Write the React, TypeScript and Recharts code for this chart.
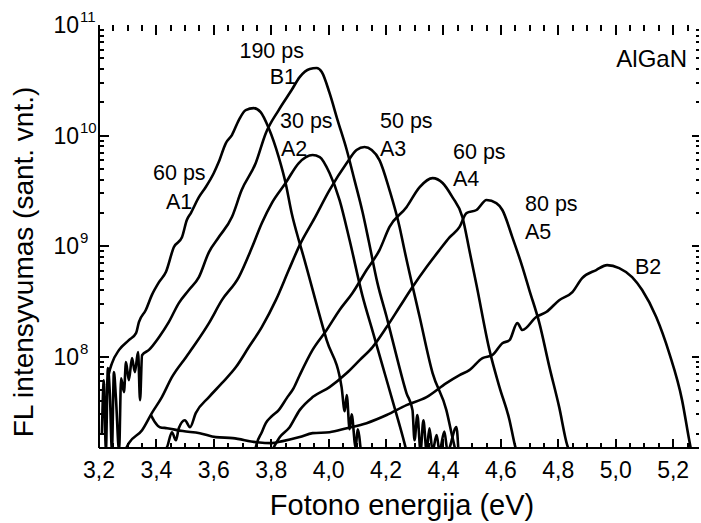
import { LineChart, Line, XAxis, YAxis } from "recharts";

const FONT = '"Liberation Sans", Arial, Helvetica, sans-serif';

// photon energy (eV) / PL intensity (arb. units) for each spectrum
const a1Energy = [3.228, 3.235, 3.245, 3.27, 3.304, 3.329, 3.339, 3.363, 3.384, 3.409, 3.433, 3.461, 3.489, 3.506, 3.52, 3.548, 3.572, 3.6, 3.617, 3.642, 3.663, 3.687, 3.711, 3.739, 3.763, 3.791, 3.826, 3.85, 3.871, 3.896, 3.906, 3.993, 4.045, 4.056, 4.063, 4.073, 4.08, 4.094, 4.101, 4.112];
const a1Intensity = [5.5e7, 7.1e7, 8.7e7, 1.15e8, 1.41e8, 1.63e8, 2.05e8, 2.64e8, 3.6e8, 4.72e8, 5.82e8, 9.8e8, 1.2e9, 1.72e9, 1.99e9, 2.77e9, 3.42e9, 4.58e9, 5.75e9, 8.55e9, 1.01e10, 1.38e10, 1.7e10, 1.77e10, 1.63e10, 1.17e10, 6.38e9, 3.72e9, 1.99e9, 1.13e9, 9.2e8, 1.41e8, 5.3e7, 3.2e7, 4.5e7, 2.2e7, 3.0e7, 1.5e7, 2.2e7, 1.4e7];

const b1Energy = [3.21, 3.217, 3.224, 3.231, 3.238, 3.245, 3.252, 3.259, 3.27, 3.277, 3.287, 3.294, 3.304, 3.315, 3.325, 3.336, 3.343, 3.35, 3.374, 3.409, 3.443, 3.478, 3.513, 3.548, 3.583, 3.617, 3.663, 3.697, 3.746, 3.781, 3.826, 3.871, 3.899, 3.934, 3.958, 3.976, 4.003, 4.031, 4.063, 4.09, 4.118, 4.139, 4.17, 4.202, 4.24, 4.271, 4.292, 4.299, 4.309, 4.32, 4.33, 4.341, 4.351, 4.362, 4.376, 4.386, 4.403, 4.414, 4.445, 4.452];
const b1Intensity = [1.95e7, 6.12e7, 1.4e7, 7.87e7, 4.49e7, 1.4e7, 7.24e7, 4.21e7, 1.4e7, 6.38e7, 4.77e7, 8.91e7, 6.12e7, 9.68e7, 7.24e7, 1.1e8, 4.04e7, 1.03e8, 1.15e8, 1.5e8, 2.05e8, 3.05e8, 4.0e8, 5.24e8, 8.83e8, 1.2e9, 1.83e9, 3.21e9, 5.64e9, 1.05e10, 1.7e10, 2.58e10, 3.38e10, 4.0e10, 4.08e10, 3.76e10, 2.43e10, 1.38e10, 7.4e9, 3.95e9, 2.03e9, 1.13e9, 4.62e8, 2.28e8, 9.29e7, 4.68e7, 3.28e7, 1.75e7, 2.96e7, 1.4e7, 2.66e7, 1.4e7, 2.25e7, 1.4e7, 1.95e7, 1.4e7, 2.1e7, 1.4e7, 2.3e7, 1.4e7];

const a2Energy = [3.29, 3.304, 3.35, 3.384, 3.419, 3.454, 3.503, 3.537, 3.583, 3.628, 3.687, 3.732, 3.767, 3.802, 3.85, 3.896, 3.944, 3.969, 4.003, 4.038, 4.073, 4.118, 4.153, 4.188, 4.223, 4.264, 4.271];
const a2Intensity = [1.4e7, 1.65e7, 2.16e7, 3.08e7, 4.3e7, 6.52e7, 9.89e7, 1.32e8, 2.01e8, 3.24e8, 5.24e8, 9.6e8, 1.61e9, 2.45e9, 3.72e9, 5.64e9, 6.67e9, 6.38e9, 4.58e9, 2.61e9, 1.13e9, 3.52e8, 1.7e8, 8.2e7, 3.95e7, 1.65e7, 1.4e7];

const a3Energy = [3.423, 3.437, 3.454, 3.468, 3.478, 3.499, 3.517, 3.537, 3.583, 3.628, 3.677, 3.722, 3.767, 3.816, 3.861, 3.899, 3.951, 4.003, 4.063, 4.097, 4.125, 4.15, 4.177, 4.212, 4.247, 4.264, 4.317, 4.362, 4.41, 4.431, 4.442];
const a3Intensity = [1.4e7, 1.52e7, 2.07e7, 1.75e7, 2.25e7, 2.66e7, 2.3e7, 3.08e7, 4.3e7, 5.75e7, 8.04e7, 1.22e8, 1.85e8, 3.24e8, 6.07e8, 1.02e9, 1.79e9, 3.21e9, 5.64e9, 7.4e9, 7.87e9, 7.4e9, 6.0e9, 3.21e9, 1.49e9, 9.2e8, 2.28e8, 7.1e7, 3.28e7, 1.87e7, 1.4e7];

const a4Energy = [3.743, 3.75, 3.767, 3.781, 3.802, 3.826, 3.854, 3.878, 3.899, 3.944, 3.993, 4.038, 4.083, 4.132, 4.177, 4.212, 4.271, 4.317, 4.362, 4.397, 4.431, 4.466, 4.49, 4.515, 4.56, 4.595, 4.63, 4.647, 4.654];
const a4Intensity = [1.4e7, 1.65e7, 2.07e7, 2.5e7, 2.89e7, 3.28e7, 4.21e7, 5.19e7, 6.79e7, 1.15e8, 1.74e8, 2.64e8, 3.76e8, 6.07e8, 9.2e8, 1.49e9, 2.25e9, 3.42e9, 4.12e9, 3.72e9, 2.77e9, 1.83e9, 9.2e8, 4.44e8, 1.15e8, 5.3e7, 2.66e7, 1.65e7, 1.4e7];

const a5Energy = [3.802, 3.83, 3.864, 3.899, 3.944, 4.003, 4.063, 4.108, 4.153, 4.202, 4.247, 4.292, 4.341, 4.386, 4.421, 4.456, 4.48, 4.515, 4.55, 4.584, 4.605, 4.64, 4.675, 4.699, 4.734, 4.769, 4.803, 4.831, 4.838];
const a5Intensity = [1.4e7, 1.87e7, 2.3e7, 3.28e7, 4.3e7, 5.3e7, 7.1e7, 9.3e7, 1.22e8, 1.85e8, 2.81e8, 4.26e8, 6.46e8, 9.2e8, 1.2e9, 1.49e9, 1.99e9, 2.12e9, 2.61e9, 2.45e9, 2.12e9, 1.2e9, 6.46e8, 4.0e8, 2.01e8, 8.04e7, 3.49e7, 1.58e7, 1.4e7];

const b2Energy = [3.381, 3.395, 3.412, 3.437, 3.492, 3.551, 3.607, 3.666, 3.75, 3.802, 3.84, 3.899, 3.944, 4.003, 4.063, 4.132, 4.202, 4.271, 4.341, 4.41, 4.456, 4.49, 4.536, 4.57, 4.605, 4.63, 4.657, 4.675, 4.723, 4.758, 4.803, 4.849, 4.883, 4.932, 4.97, 5.012, 5.057, 5.092, 5.141, 5.186, 5.231, 5.256, 5.263];
const b2Intensity = [2.96e7, 2.55e7, 2.3e7, 2.25e7, 2.12e7, 2.03e7, 1.87e7, 1.83e7, 1.68e7, 1.65e7, 1.72e7, 1.87e7, 2.03e7, 2.07e7, 2.25e7, 2.5e7, 2.96e7, 3.64e7, 4.3e7, 5.75e7, 6.79e7, 7.55e7, 9.68e7, 1.03e8, 1.32e8, 1.41e8, 2.01e8, 1.74e8, 2.28e8, 2.53e8, 3.24e8, 3.84e8, 5.13e8, 6.07e8, 6.73e8, 6.32e8, 5.24e8, 4.0e8, 2.28e8, 1.08e8, 4.04e7, 1.75e7, 1.4e7];

const xMajorTicks = [3.2, 3.4, 3.6, 3.8, 4.0, 4.2, 4.4, 4.6, 4.8, 5.0, 5.2];
const yMajorTicks = [1e8, 1e9, 1e10, 1e11];

const X_DOMAIN: [number, number] = [3.2, 5.29];
const Y_DOMAIN: [number, number] = [1.49e7, 1e11];

// minor ticks every 0.05 eV, log minors 2..9 per decade
const xMinorTicks = Array.from({ length: 42 }, (_, i) => +(3.2 + i * 0.05).toFixed(2));
const yMinorTicks: number[] = [];
[1e7, 1e8, 1e9, 1e10].forEach((d) => {
  for (let m = 2; m <= 9; m++) yMinorTicks.push(m * d);
});

const zip = (e: number[], v: number[]) => e.map((x, i) => ({ e: x, v: v[i] }));

const series = [
  zip(a1Energy, a1Intensity),
  zip(b1Energy, b1Intensity),
  zip(a2Energy, a2Intensity),
  zip(a3Energy, a3Intensity),
  zip(a4Energy, a4Intensity),
  zip(a5Energy, a5Intensity),
  zip(b2Energy, b2Intensity),
];

// plot box set by the chart margins / axis sizes below
const PLOT = { left: 99, right: 699, top: 25, bottom: 448 };
const px = (x: number) => PLOT.left + ((x - X_DOMAIN[0]) / (X_DOMAIN[1] - X_DOMAIN[0])) * (PLOT.right - PLOT.left);
const lyMin = Math.log10(Y_DOMAIN[0]);
const lyMax = Math.log10(Y_DOMAIN[1]);
const py = (v: number) => PLOT.top + ((lyMax - Math.log10(v)) / (lyMax - lyMin)) * (PLOT.bottom - PLOT.top);
const isMajorX = (v: number) => xMajorTicks.some((m) => Math.abs(m - v) < 1e-6);

// inward frame ticks on all four sides, drawn as 2 px wide filled bars
function FrameTicks() {
  const bars: { x: number; y: number; w: number; h: number }[] = [];
  xMinorTicks.forEach((x) => {
    if (x <= X_DOMAIN[0]) return;
    const X = Math.round(px(x));
    const major = isMajorX(x);
    const lb = major ? 9 : 5;
    const lt = major ? 10 : 6;
    bars.push({ x: X - 1, y: PLOT.bottom - lb, w: 2, h: lb });
    bars.push({ x: X - 1, y: PLOT.top, w: 2, h: lt });
  });
  [...yMinorTicks, ...yMajorTicks].forEach((v) => {
    if (v >= Y_DOMAIN[1]) return;
    const Y = Math.round(py(v));
    const major = yMajorTicks.includes(v);
    const ll = major ? 10 : 5;
    const lr = major ? 7 : 3;
    bars.push({ x: PLOT.left, y: Y - 1, w: ll, h: 2 });
    bars.push({ x: PLOT.right - lr, y: Y - 1, w: lr, h: 2 });
  });
  return (
    <g fill="#000">
      {bars.map((b, i) => (
        <rect key={i} x={b.x} y={b.y} width={b.w} height={b.h} fill="#000" />
      ))}
    </g>
  );
}

const bottomLabel = (p: any) => (
  <text key={`b${p.index}`} x={p.x} y={Number(p.y) + 30} textAnchor="middle" fontSize={23} fontFamily={FONT} fill="#000">
    {p.payload.value.toFixed(1).replace(".", ",")}
  </text>
);

const leftLabel = (p: any) => {
  const x = Number(p.x);
  const y = Number(p.y);
  const exp = Math.round(Math.log10(p.payload.value));
  return (
    <g key={`l${p.index}`}>
      <text x={x - 20} y={y + 8} textAnchor="end" fontSize={23} fontFamily={FONT} fill="#000">
        10
      </text>
      <text x={x - 19} y={y - 3} textAnchor="start" fontSize={15} fontFamily={FONT} fill="#000">
        {exp}
      </text>
    </g>
  );
};

const labels = [
  { t: "190 ps", x: 304, y: 58, a: "end" },
  { t: "B1", x: 296, y: 84, a: "end" },
  { t: "60 ps", x: 153, y: 180, a: "start" },
  { t: "A1", x: 166, y: 209, a: "start" },
  { t: "30 ps", x: 280, y: 128, a: "start" },
  { t: "A2", x: 281, y: 156, a: "start" },
  { t: "50 ps", x: 380, y: 128, a: "start" },
  { t: "A3", x: 380, y: 156, a: "start" },
  { t: "60 ps", x: 453, y: 159, a: "start" },
  { t: "A4", x: 453, y: 186, a: "start" },
  { t: "80 ps", x: 525, y: 211, a: "start" },
  { t: "A5", x: 525, y: 239, a: "start" },
  { t: "B2", x: 635, y: 274, a: "start" },
];

const frame = { stroke: "#000", strokeWidth: 2 };

export default function App() {
  return (
    <div style={{ position: "absolute", left: 0, top: 0, width: 701, height: 523, background: "#fff" }}>
      <LineChart width={701} height={523} margin={{ top: PLOT.top, right: 701 - PLOT.right, bottom: 0, left: 0 }}>
        <XAxis
          xAxisId="b"
          dataKey="e"
          type="number"
          domain={X_DOMAIN}
          allowDataOverflow
          ticks={xMajorTicks}
          interval={0}
          height={523 - PLOT.bottom}
          tickSize={0}
          tickMargin={0}
          tickLine={false}
          axisLine={frame}
          tick={bottomLabel}
        />
        <XAxis
          xAxisId="t"
          orientation="top"
          mirror
          dataKey="e"
          type="number"
          domain={X_DOMAIN}
          allowDataOverflow
          height={0}
          tick={false}
          tickLine={false}
          axisLine={frame}
        />
        <YAxis
          yAxisId="l"
          type="number"
          scale="log"
          domain={Y_DOMAIN}
          allowDataOverflow
          ticks={yMajorTicks}
          interval={0}
          width={PLOT.left}
          tickSize={0}
          tickMargin={0}
          tickLine={false}
          axisLine={frame}
          tick={leftLabel}
        />
        <YAxis
          yAxisId="r"
          orientation="right"
          mirror
          type="number"
          scale="log"
          domain={Y_DOMAIN}
          allowDataOverflow
          width={0}
          tick={false}
          tickLine={false}
          axisLine={frame}
        />
        {series.map((d, i) => (
          <Line
            key={i}
            xAxisId="b"
            yAxisId="l"
            data={d}
            dataKey="v"
            type="monotone"
            stroke="#000"
            strokeWidth={2.6}
            dot={false}
            activeDot={false}
            isAnimationActive={false}
          />
        ))}
      </LineChart>
      <svg
        width={701}
        height={523}
        style={{ position: "absolute", left: 0, top: 0, pointerEvents: "none" }}
        fontFamily={FONT}
        fill="#000"
      >
        <FrameTicks />
        {labels.map((l, i) => (
          <text key={i} x={l.x} y={l.y} fontSize={21.5} textAnchor={l.a as any}>
            {l.t}
          </text>
        ))}
        <text x={687} y={67} fontSize={24} textAnchor="end">
          AlGaN
        </text>
        <text x={402} y={515} fontSize={29} textAnchor="middle">
          Fotono energija (eV)
        </text>
        <text x={33} y={262} fontSize={28} textAnchor="middle" transform="rotate(-90 33 262)">
          FL intensyvumas (sant. vnt.)
        </text>
      </svg>
    </div>
  );
}
